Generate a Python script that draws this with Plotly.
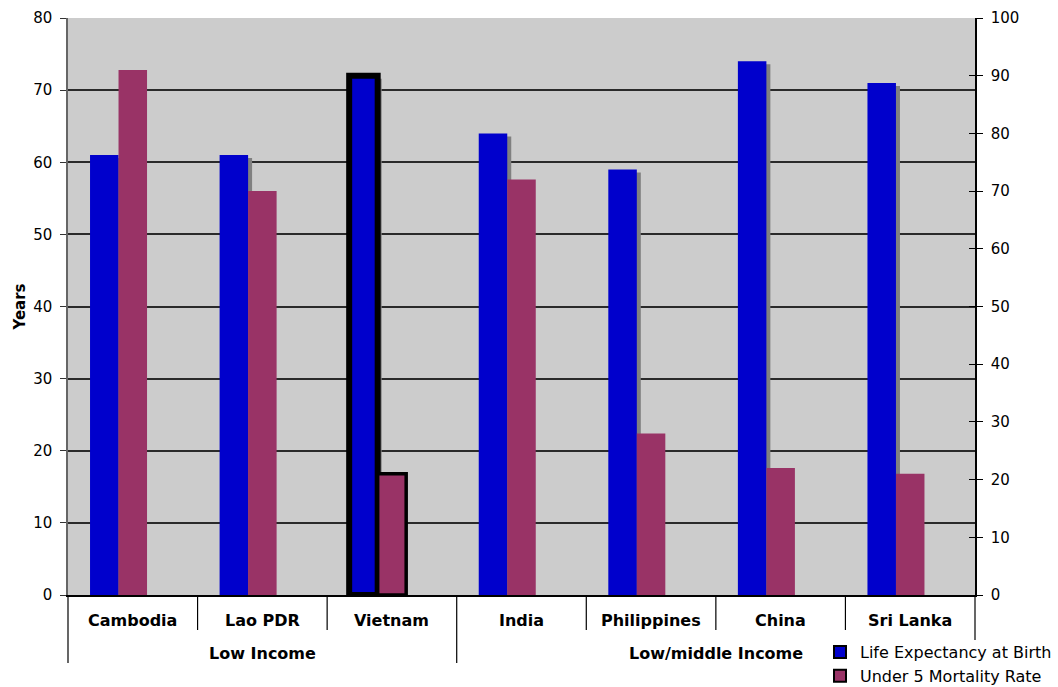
import plotly.graph_objects as go

countries = ["Cambodia", "Lao PDR", "Vietnam", "India", "Philippines", "China", "Sri Lanka"]
groups = ["Low Income", "Low Income", "Low Income",
          "Low/middle Income", "Low/middle Income", "Low/middle Income", "Low/middle Income"]
life_expectancy = [61, 61, 72, 64, 59, 74, 71]
under5_mortality = [91, 70, 21, 72, 28, 22, 21]
highlight = [False, False, True, False, False, False, False]
left_ticks = [0, 10, 20, 30, 40, 50, 60, 70, 80]
right_ticks = [0, 10, 20, 30, 40, 50, 60, 70, 80, 90, 100]

BLUE = "#0000CC"
MAROON = "#993366"
SHADOW = "#808080"
FONT = "DejaVu Sans, Verdana, sans-serif"

W, H = 1058, 687
ML, MR, MT, MB = 68, 83, 18, 92
plot_h = H - MT - MB
ncat = len(countries)
x = list(range(ncat))

bar_w = 0.22
blue_off = -0.33
red_off = -0.11
# shadow offset: 4 px right, 3 px down
px_per_cat = (W - ML - MR) / ncat
px_per_unit = plot_h / (left_ticks[-1] - left_ticks[0])
shadow_dx = 4 / px_per_cat
shadow_dy = 3 / px_per_unit

fig = go.Figure()

fig.add_trace(go.Bar(
    x=x, y=[v - shadow_dy for v in life_expectancy],
    offset=blue_off + shadow_dx, width=bar_w,
    marker=dict(color=SHADOW, line=dict(width=0)),
    showlegend=False, hoverinfo="skip", yaxis="y"))

fig.add_trace(go.Bar(
    x=x, y=life_expectancy, name="Life Expectancy at Birth",
    offset=blue_off, width=bar_w,
    marker=dict(color=BLUE,
                line=dict(color="black", width=[6 if h else 0 for h in highlight])),
    yaxis="y"))

fig.add_trace(go.Bar(
    x=x, y=under5_mortality, name="Under 5 Mortality Rate",
    offset=red_off, width=bar_w,
    marker=dict(color=MAROON,
                line=dict(color="black", width=[3.5 if h else 0 for h in highlight])),
    yaxis="y2"))

# invisible trace to show inside tick marks on the right axis
fig.add_trace(go.Scatter(x=[0], y=[0], yaxis="y3", mode="markers",
                         marker=dict(opacity=0), showlegend=False, hoverinfo="skip"))

fig.update_layout(
    width=W, height=H,
    margin=dict(l=ML, r=MR, t=MT, b=MB, autoexpand=False),
    paper_bgcolor="white",
    plot_bgcolor="#CCCCCC",
    barmode="overlay",
    font=dict(family=FONT, size=15, color="black"),
    xaxis=dict(range=[-0.5, ncat - 0.5], showticklabels=False, ticks="",
               showgrid=False, zeroline=False, showline=True,
               linecolor="black", linewidth=1.5, fixedrange=True),
    yaxis=dict(range=[left_ticks[0], left_ticks[-1]], tickvals=left_ticks,
               ticks="outside", ticklen=6, tickcolor="#333", ticklabelstandoff=5,
               showgrid=True, gridcolor="#2a2a2a", gridwidth=1.6,
               zeroline=False, showline=True, linecolor="#666", linewidth=1.5,
               tickfont=dict(size=15),
               title=dict(text="<b>Years</b>", font=dict(size=15), standoff=4)),
    yaxis2=dict(range=[right_ticks[0], right_ticks[-1]], tickvals=right_ticks,
                overlaying="y", side="right",
                ticks="outside", ticklen=6, tickcolor="black", ticklabelstandoff=5,
                showgrid=False, zeroline=False, showline=True,
                linecolor="black", linewidth=1.5, tickfont=dict(size=15)),
    yaxis3=dict(range=[right_ticks[0], right_ticks[-1]], tickvals=right_ticks,
                overlaying="y", side="right", showticklabels=False,
                ticks="inside", ticklen=6, tickcolor="black",
                showgrid=False, zeroline=False, showline=False),
    legend=dict(x=(820 - ML) / (W - ML - MR), y=-(635 - (H - MB)) / plot_h,
                xanchor="left", yanchor="top", bgcolor="rgba(0,0,0,0)",
                font=dict(size=16), tracegroupgap=0, itemsizing="constant"),
    showlegend=True,
)

# category labels and dividers
for i, c in enumerate(countries):
    fig.add_annotation(x=i, y=0, xref="x", yref="paper", text=f"<b>{c}</b>",
                       showarrow=False, yanchor="middle", yshift=-25,
                       font=dict(size=16))
for i in range(ncat - 1):
    tall = groups[i] != groups[i + 1]
    fig.add_shape(type="line", xref="x", yref="paper",
                  x0=i + 0.5, x1=i + 0.5, y0=0, y1=-(68 if tall else 35) / plot_h,
                  line=dict(color="black", width=1.2))
fig.add_shape(type="line", xref="paper", yref="paper", x0=0, x1=0,
              y0=0, y1=-68 / plot_h, line=dict(color="black", width=1.2))
fig.add_shape(type="line", xref="paper", yref="paper", x0=1, x1=1,
              y0=0, y1=-45 / plot_h, line=dict(color="black", width=1.2))

# group labels
uniq = []
for g in groups:
    if g not in uniq:
        uniq.append(g)
for g in uniq:
    idx = [i for i, gg in enumerate(groups) if gg == g]
    fig.add_annotation(x=(idx[0] + idx[-1]) / 2, y=0, xref="x", yref="paper",
                       text=f"<b>{g}</b>", showarrow=False, yanchor="middle",
                       yshift=-58, font=dict(size=16))

fig.write_html("out.html",
               config={"displayModeBar": False},
               post_script="document.body.style.margin='0';"
                           "document.body.style.overflow='hidden';")
